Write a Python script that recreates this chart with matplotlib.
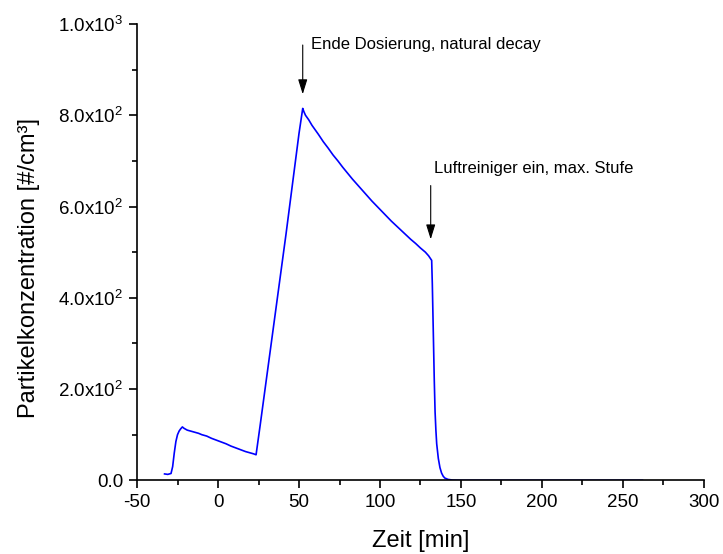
import matplotlib
matplotlib.use('Agg')
import matplotlib.pyplot as plt
from matplotlib.ticker import MultipleLocator, FuncFormatter

plt.rcParams['font.family'] = ['Liberation Sans', 'DejaVu Sans']
plt.rcParams['mathtext.fontset'] = 'custom'
plt.rcParams['mathtext.rm'] = 'Liberation Sans'
plt.rcParams['mathtext.it'] = 'Liberation Sans'
plt.rcParams['axes.unicode_minus'] = False

# time [min] and concentration [#/cm3]
zeit = [-33, -31, -30, -29, -28, -27, -26, -25, -24, -23, -22, -21, -19, -17, -15,
        -12, -10, -7, -4, -1, 2, 5, 8, 11, 14, 17, 20, 22, 23.5,
        26, 30, 34, 38, 42, 46, 50, 52.3,
        53, 54, 56, 58, 60, 62, 65, 68, 71, 74, 77, 80, 83, 86, 89, 92, 95,
        98, 101, 104, 107, 110, 113, 116, 119, 122, 125, 128, 130, 131.9,
        132.3, 132.7, 133.1, 133.5, 134, 134.5, 135, 136, 137, 138, 139, 140,
        142, 145, 150, 200, 262]
konz = [14, 13, 14, 15, 30, 60, 85, 100, 108, 113, 117, 114, 110, 108, 106,
        103, 100, 97, 92, 88, 84, 80, 75, 71, 67, 63, 60, 58, 56,
        120, 225, 330, 435, 540, 650, 760, 815,
        808, 800, 790, 778, 768, 758, 742, 728, 713, 700, 686, 673, 660, 648,
        636, 624, 612, 601, 590, 579, 568, 558, 548, 538, 528, 519, 509,
        500, 492, 482,
        430, 360, 290, 220, 150, 110, 80, 48, 28, 16, 9, 5,
        2, 0.5, 0, 0, 0]

fig = plt.figure(figsize=(7.23, 5.54), dpi=100)
ax = fig.add_axes([0.1895, 0.133, 0.7842, 0.8237])
ax.plot(zeit, konz, color='#0000ff', lw=1.2)

ax.set_xlim(-50, 300)
ax.set_ylim(0, 1000)
ax.xaxis.set_major_locator(MultipleLocator(50))
ax.xaxis.set_minor_locator(MultipleLocator(25))
ax.yaxis.set_major_locator(MultipleLocator(200))
ax.yaxis.set_minor_locator(MultipleLocator(100))


def sci(v, pos):
    if v == 0:
        return '0.0'
    exp = len(str(int(v))) - 1
    return '%.1fx10$^{%d}$' % (v / 10**exp, exp)


ax.yaxis.set_major_formatter(FuncFormatter(sci))
ax.tick_params(which='major', direction='out', length=6, width=1.2, labelsize=13.5, pad=4)
ax.tick_params(which='minor', direction='out', length=3.5, width=1.2)
for s in ['top', 'right']:
    ax.spines[s].set_visible(False)
for s in ['left', 'bottom']:
    ax.spines[s].set_linewidth(1.2)

ax.set_xlabel('Zeit [min]', fontsize=17, va='center', ha='center')
ax.set_ylabel('Partikelkonzentration [#/cm³]', fontsize=17, va='center', ha='center')
ax.xaxis.set_label_coords(0.5, -0.132)
ax.yaxis.set_label_coords(-0.19, 0.465)

arrow = dict(arrowstyle='-|>,head_width=0.28,head_length=0.9', color='black', lw=0.8)
ax.annotate('', xy=(52.3, 840), xytext=(52.3, 960), arrowprops=arrow)
ax.text(57.5, 954, 'Ende Dosierung, natural decay', fontsize=12, va='center')
ax.annotate('', xy=(131.3, 522), xytext=(131.3, 652), arrowprops=arrow)
ax.text(133.5, 684, 'Luftreiniger ein, max. Stufe', fontsize=12, va='center')

fig.savefig('out.png', dpi=100)
